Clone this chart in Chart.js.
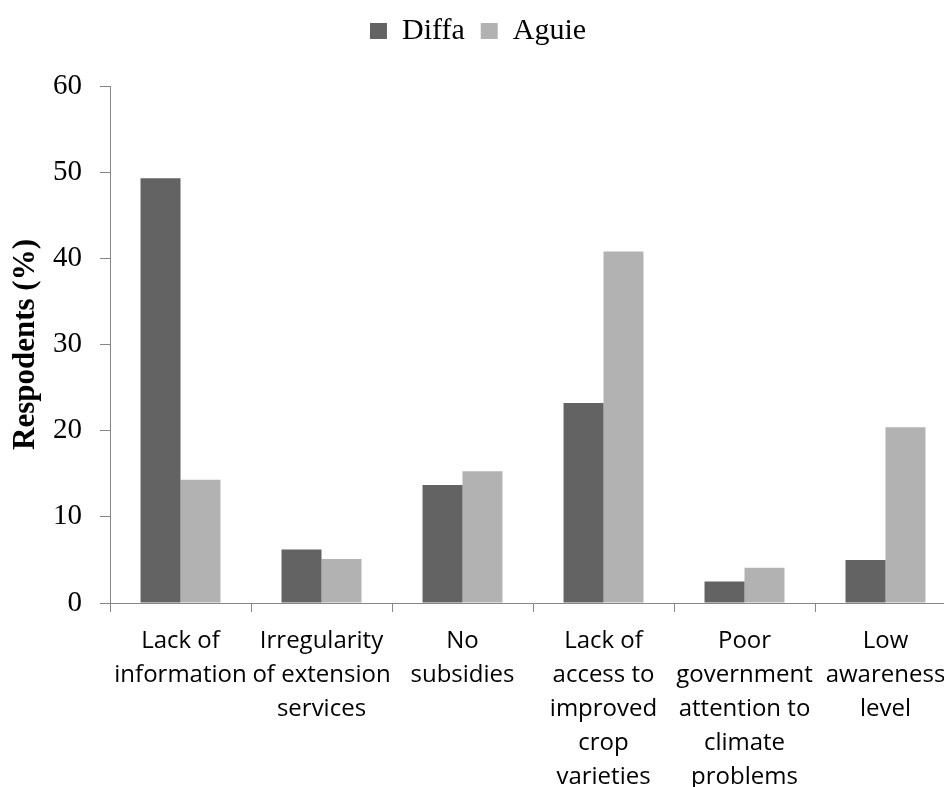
<!DOCTYPE html>
<html><head><meta charset="utf-8">
<script src="https://cdn.jsdelivr.net/npm/chart.js@4"></script>
<style>
html,body{margin:0;padding:0;background:#fff;overflow:hidden;width:944px;height:787px}
#wrap{position:relative;width:960px;height:787px}
</style>
</head><body><div id="wrap"><canvas id="c" width="960" height="787"></canvas></div>
<script>
const categories = [
  ["Lack of","information"],
  ["Irregularity","of extension","services"],
  ["No","subsidies"],
  ["Lack of","access to","improved","crop","varieties"],
  ["Poor","government","attention to","climate","problems"],
  ["Low","awareness","level"]
];
const seriesNames = ["Diffa","Aguie"];
const diffa = [49.3, 6.2, 13.7, 23.2, 2.5, 5.0];
const aguie = [14.3, 5.1, 15.3, 40.8, 4.1, 20.4];
const yTicks = [0,10,20,30,40,50,60];
const yTitle = "Respodents (%)";

const axisGray = '#868686';

const legendGap = {
  id: 'legendGap',
  beforeInit(chart) {
    const lg = chart.legend;
    const origFit = lg.fit;
    lg.fit = function () { origFit.call(this); this.height += 30; };
  }
};

new Chart(document.getElementById('c'), {
  type: 'bar',
  plugins: [legendGap],
  data: {
    labels: categories,
    datasets: [
      {label: seriesNames[0], data: diffa, backgroundColor: '#636363', borderWidth: 0},
      {label: seriesNames[1], data: aguie, backgroundColor: '#b2b2b2', borderWidth: 0}
    ]
  },
  options: {
    responsive: false,
    animation: false,
    devicePixelRatio: 1,
    layout: {padding: {left: 0, right: 4, top: 0, bottom: 0}},
    datasets: {bar: {barPercentage: 1.0, categoryPercentage: 0.567}},
    plugins: {
      tooltip: {enabled: false},
      legend: {
        position: 'top',
        labels: {
          font: {family: 'Liberation Serif', size: 30},
          color: '#000',
          boxWidth: 17,
          boxHeight: 16,
          padding: 16
        }
      }
    },
    scales: {
      x: {
        afterFit: s => { s.height = 184; },
        grid: {display: true, drawOnChartArea: false, drawTicks: true, tickLength: 9, color: axisGray, offset: true},
        border: {display: true, color: axisGray, width: 1},
        ticks: {
          padding: 12, color: '#000', maxRotation: 0, autoSkip: false,
          font: {family: 'Open Sans', size: 24, lineHeight: 1.417}
        }
      },
      y: {
        min: 0, max: 60,
        afterFit: s => { s.width = 110; },
        afterBuildTicks: s => { s.ticks = yTicks.map(v => ({value: v})); },
        grid: {display: true, drawOnChartArea: false, drawTicks: true, tickLength: 10, color: axisGray},
        border: {display: true, color: axisGray, width: 1},
        ticks: {
          padding: 18, color: '#000',
          font: {family: 'Liberation Serif', size: 29}
        },
        title: {
          display: true, text: yTitle, color: '#000',
          font: {family: 'Liberation Serif', size: 31, weight: 'bold', lineHeight: 1.2},
          padding: {top: 7, bottom: 0}
        }
      }
    }
  }
});
</script>
</body></html>
